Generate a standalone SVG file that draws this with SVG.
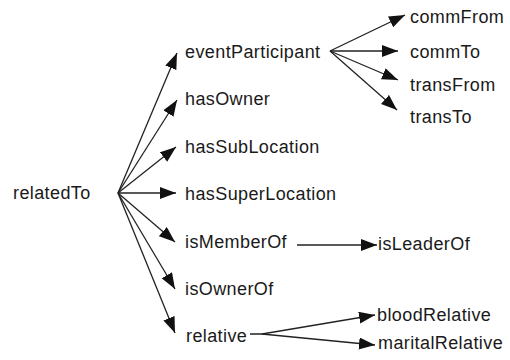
<svg xmlns="http://www.w3.org/2000/svg" width="510" height="360" viewBox="0 0 510 360">
<style>
text{font-family:"Liberation Sans",Arial,sans-serif;font-size:18px;letter-spacing:0.4px;fill:#1a1a1a}
.c path,.c line{stroke:#222;stroke-width:1.3;fill:none}
</style>
<defs>
<marker id="ah" markerUnits="userSpaceOnUse" markerWidth="17" markerHeight="13" refX="16" refY="6" orient="auto"><path d="M0,0 L16,6 L0,12 z" fill="#111"/></marker>
</defs>
<rect width="510" height="360" fill="#fff"/>
<g class="c" id="connectors">
<line x1="118" y1="193" x2="177" y2="53" marker-end="url(#ah)"/>
<line x1="118" y1="193" x2="177" y2="100" marker-end="url(#ah)"/>
<line x1="118" y1="193" x2="176" y2="147" marker-end="url(#ah)"/>
<line x1="118" y1="193" x2="176" y2="193" marker-end="url(#ah)"/>
<line x1="118" y1="193" x2="175" y2="242" marker-end="url(#ah)"/>
<line x1="118" y1="193" x2="175" y2="289" marker-end="url(#ah)"/>
<line x1="118" y1="193" x2="175" y2="333" marker-end="url(#ah)"/>
<line x1="330" y1="51" x2="405" y2="15" marker-end="url(#ah)"/>
<line x1="330" y1="51" x2="398" y2="51" marker-end="url(#ah)"/>
<line x1="330" y1="51" x2="398" y2="80" marker-end="url(#ah)"/>
<line x1="330" y1="51" x2="397" y2="110" marker-end="url(#ah)"/>
<line x1="297" y1="245" x2="377" y2="245" marker-end="url(#ah)"/>
<path d="M250,334 L262,334 L375,315" marker-end="url(#ah)"/>
<path d="M262,334 L375,345" marker-end="url(#ah)"/>
</g>
<g id="relatedTo"><text x="13" y="199">relatedTo</text></g>
<g id="eventParticipant"><text x="185" y="58">eventParticipant</text></g>
<g id="hasOwner"><text x="185" y="105">hasOwner</text></g>
<g id="hasSubLocation"><text x="185" y="153">hasSubLocation</text></g>
<g id="hasSuperLocation"><text x="185" y="200">hasSuperLocation</text></g>
<g id="isMemberOf"><text x="185" y="248">isMemberOf</text></g>
<g id="isOwnerOf"><text x="185" y="295">isOwnerOf</text></g>
<g id="relative"><text x="186" y="342">relative</text></g>
<g id="commFrom"><text x="410" y="23">commFrom</text></g>
<g id="commTo"><text x="410" y="58">commTo</text></g>
<g id="transFrom"><text x="410" y="91">transFrom</text></g>
<g id="transTo"><text x="410" y="123">transTo</text></g>
<g id="isLeaderOf"><text x="378" y="250">isLeaderOf</text></g>
<g id="bloodRelative"><text x="377" y="321">bloodRelative</text></g>
<g id="maritalRelative"><text x="378" y="349">maritalRelative</text></g>
</svg>
